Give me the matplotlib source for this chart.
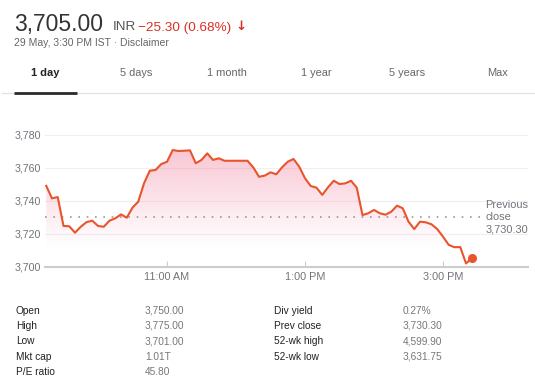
import matplotlib
matplotlib.use("Agg")
import matplotlib.pyplot as plt
import numpy as np

# ---------------- data ----------------
start_minute = 555   # 9:15 AM, 5-minute steps
step_minutes = 5
prices = [3749.0, 3741.4, 3742.2, 3724.7, 3724.5, 3720.6, 3724.2, 3727.0, 3727.9, 3724.7,
          3724.2, 3727.9, 3729.3, 3731.7, 3729.7, 3735.8, 3739.4, 3750.5, 3758.2, 3758.6,
          3762.2, 3763.6, 3770.7, 3770.1, 3770.3, 3770.5, 3762.7, 3764.7, 3768.7, 3764.7,
          3765.7, 3764.2, 3764.2, 3764.2, 3764.2, 3764.2, 3760.2, 3754.5, 3755.2, 3757.2,
          3756.0, 3760.2, 3763.6, 3765.3, 3760.6, 3753.6, 3748.9, 3747.9, 3743.5, 3748.1,
          3752.1, 3750.1, 3750.5, 3752.1, 3747.9, 3731.3, 3732.4, 3734.4, 3732.4, 3731.5,
          3733.3, 3737.0, 3735.4, 3727.3, 3722.8, 3727.3, 3726.9, 3725.7, 3722.8, 3718.2,
          3713.2, 3711.8, 3711.9, 3702.0, 3705.0]
prev_close = 3730.30
y_ticks = [3700, 3720, 3740, 3760, 3780]
x_tick_minutes = [660, 780, 900]
x_tick_labels = ["11:00 AM", "1:00 PM", "3:00 PM"]
tabs = ["1 day", "5 days", "1 month", "1 year", "5 years", "Max"]
stats_left = [("Open", "3,750.00"), ("High", "3,775.00"), ("Low", "3,701.00"),
              ("Mkt cap", "1.01T"), ("P/E ratio", "45.80")]
stats_right = [("Div yield", "0.27%"), ("Prev close", "3,730.30"),
               ("52-wk high", "4,599.90"), ("52-wk low", "3,631.75")]
price_text = "3,705.00"
currency = "INR"
change_text = "\u221225.30 (0.68%)"
date_text = "29 May, 3:30 PM IST \u00b7 Disclaimer"

# ---------------- figure ----------------
W, H = 535, 384
plt.rcParams['font.family'] = ['Liberation Sans', 'DejaVu Sans']
fig = plt.figure(figsize=(W / 100, H / 100), dpi=100)
fig.patch.set_facecolor('white')

def fx(px):
    return px / W

def fy(py):
    return 1 - py / H

LINE = '#e8542c'
GRAY = '#70757a'
DARK = '#222222'
RED = '#d93025'

# header
fig.text(fx(14), fy(30.5), price_text, fontsize=16.5, color='#333333', va='baseline', ha='left')
fig.text(fx(113), fy(30.5), currency, fontsize=9.6, color='#555555', va='baseline', ha='left')
fig.text(fx(138.5), fy(30.5), change_text, fontsize=9.7, color=RED, va='baseline', ha='left')
fig.text(fx(241.5), fy(30.5), "\u2193", fontsize=9.5, color=RED, va='baseline', ha='center',
         fontweight='bold', family=['DejaVu Sans'])
fig.text(fx(14), fy(46), date_text, fontsize=7.5, color='#666666', va='baseline', ha='left')

# tabs
tab_x = [45.5, 136, 226.7, 316.7, 407, 497]
for i, (t, x) in enumerate(zip(tabs, tab_x)):
    fig.text(fx(x), fy(73.5), t, fontsize=7.9, ha='center', va='center',
             color=DARK if i == 0 else '#666666', fontweight='bold' if i == 0 else 'normal')
fig.add_artist(plt.Line2D([fx(2), fx(535)], [fy(92.5), fy(92.5)], color='#e3e3e3', lw=0.9))
fig.add_artist(plt.Line2D([fx(14), fx(77)], [fy(93), fy(93)], color='#2b2b2b', lw=2.0,
                          solid_capstyle='butt'))

# chart axes
ylo, yhi = 3700, 3786
px_per_unit = 1.65
ax_bottom_px = 266.7
ax_top_px = ax_bottom_px - (yhi - ylo) * px_per_unit
x_left_px, x_right_px = 45, 528
xlo = 660 + (x_left_px - 167) / 1.15
xhi = 660 + (x_right_px - 167) / 1.15
ax = fig.add_axes([fx(x_left_px), fy(ax_bottom_px), (x_right_px - x_left_px) / W,
                   (ax_bottom_px - ax_top_px) / H])
ax.set_xlim(xlo, xhi)
ax.set_ylim(ylo, yhi)
ax.set_facecolor('none')
for s in ['top', 'right', 'left']:
    ax.spines[s].set_visible(False)
ax.spines['bottom'].set_color('#cccccc')
ax.spines['bottom'].set_linewidth(1.5)

minutes = [start_minute + i * step_minutes for i in range(len(prices))]

# grid
for yv in y_ticks[1:]:
    ax.axhline(yv, color='#f0f0f0', lw=0.9, zorder=0)

# gradient fill under line
grad_n = 256
ys = np.linspace(yhi, ylo, grad_n)
alpha = np.clip((ys - 3712) / (3772 - 3712), 0, 1) * 0.38
img = np.zeros((grad_n, 2, 4))
img[..., 0] = 240 / 255
img[..., 1] = 105 / 255
img[..., 2] = 140 / 255
img[..., 3] = alpha[:, None]
im = ax.imshow(img, extent=[xlo, xhi, ylo, yhi], aspect='auto', origin='upper', zorder=1,
               interpolation='bilinear')
poly = ax.fill_between(minutes, prices, ylo, color='none', lw=0)
im.set_clip_path(poly.get_paths()[0], transform=ax.transData)

# previous close dotted line
ax.plot([xlo, 935], [prev_close, prev_close], color='#9a9a9a', lw=1.2,
        linestyle=(0, (1, 4)), zorder=2)

ax.plot(minutes, prices, color=LINE, lw=1.5, zorder=3, solid_joinstyle='round')
ax.plot([minutes[-1]], [prices[-1]], 'o', color=LINE, ms=5.5, zorder=4, mec=LINE)

ax.set_yticks(y_ticks)
ax.set_yticklabels([f"{v:,}" for v in y_ticks])
ax.tick_params(axis='y', length=0, pad=3, labelsize=7.7, labelcolor=GRAY)
ax.set_xticks(x_tick_minutes)
ax.set_xticklabels(x_tick_labels)
ax.tick_params(axis='x', length=4, width=0.8, color='#cccccc', direction='in', pad=4,
               labelsize=7.8, labelcolor=GRAY)

# previous close label
fig.text(fx(485.5), fy(205), "Previous", fontsize=7.9, color=GRAY, va='center', ha='left')
fig.text(fx(485.5), fy(217.5), "close", fontsize=7.9, color=GRAY, va='center', ha='left')
fig.text(fx(485.5), fy(230), f"{prev_close:,.2f}", fontsize=7.9, color=GRAY, va='center', ha='left')

# stats table
row_y = [310.7, 325.9, 341.4, 356.6, 371.6]
for (lab, val), y in zip(stats_left, row_y):
    fig.text(fx(16), fy(y), lab, fontsize=7.3, color=DARK, va='center', ha='left')
    fig.text(fx(145), fy(y), val, fontsize=7.3, color='#777777', va='center', ha='left')
for (lab, val), y in zip(stats_right, row_y):
    fig.text(fx(274.5), fy(y), lab, fontsize=7.3, color=DARK, va='center', ha='left')
    fig.text(fx(403), fy(y), val, fontsize=7.3, color='#777777', va='center', ha='left')

fig.savefig("out.png", dpi=100, facecolor='white')
